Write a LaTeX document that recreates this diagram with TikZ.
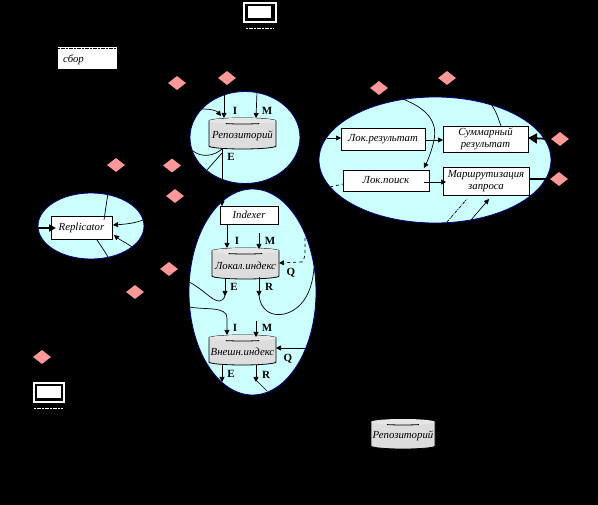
\documentclass[tikz,border=0pt]{standalone}
\usepackage{fontspec}
\setmainfont{Liberation Serif}
\usetikzlibrary{arrows.meta,shapes.geometric}
\definecolor{cyanfill}{HTML}{CCFFFF}
\definecolor{cyanedge}{HTML}{000080}
\definecolor{pinkfill}{HTML}{FF9999}
\definecolor{cylbody}{HTML}{DDDDDD}
\definecolor{cyltop}{HTML}{E6E6E6}
\tikzset{
  cloud/.style={ellipse,draw=cyanedge,line width=0.8pt,fill=cyanfill,inner sep=0,outer sep=0},
  marker/.style={diamond,fill=pinkfill,inner sep=0,minimum width=18pt,minimum height=14pt,aspect=1.3},
  whitebox/.style={rectangle,draw=black,line width=0.8pt,fill=white,inner sep=0,outer sep=0,font=\itshape\fontsize{10.8}{11.5}\selectfont,align=center},
  storetext/.style={rectangle,inner sep=0,outer sep=0,font=\itshape\fontsize{10.8}{11.5}\selectfont},
  sign/.style={font=\bfseries\fontsize{11}{12}\selectfont,inner sep=0},
  link/.style={draw=black,line width=0.7pt},
  arrowlink/.style={link,-{Triangle[length=5pt,width=5pt]}},
  heavylink/.style={draw=black,line width=1.8pt},
  monitor/.style={rectangle,draw=white,line width=2pt,inner sep=0,outer sep=0},
  strip/.style={draw=white,line width=1.2pt,dash pattern=on 2pt off 1pt on 4pt off 1pt}
}
% centre x, top y, width, height, name, text
\newcommand{\storeshape}[6]{%
  \pgfmathsetmacro{\xl}{#1-#3/2}\pgfmathsetmacro{\xr}{#1+#3/2}%
  \pgfmathsetmacro{\yt}{#2+3}\pgfmathsetmacro{\yb}{#2+#4-3}%
  \path[draw=black,line width=0.8pt,fill=cylbody] (\xl,\yt) -- (\xl,\yb) arc[start angle=180,end angle=0,x radius=#3/2,y radius=3] -- (\xr,\yt) arc[start angle=0,end angle=-180,x radius=#3/2,y radius=3] -- cycle;
  \path[fill=cyltop] (#1,\yt) ellipse[x radius=#3/2,y radius=3];
  \path[draw=black,line width=0.8pt] (#1-#3/4,#2+5.6) arc[start angle=120,end angle=60,x radius=#3/2,y radius=3];
  \node[storetext] (#5) at (#1,#2+#4/2+2) {#6};}
\begin{document}
\begin{tikzpicture}[x=1pt,y=-1pt]
\useasboundingbox (0,0) rectangle (598,505);
\fill[black] (0,0) rectangle (598,505);

% clouds
\node[cloud,minimum width=110pt,minimum height=92pt] (cloudrepo) at (245,137.5) {};
\node[cloud,minimum width=232pt,minimum height=126pt] (cloudquery) at (435,160) {};
\node[cloud,minimum width=127pt,minimum height=206pt] (cloudindex) at (252.5,292) {};
\node[cloud,minimum width=106pt,minimum height=66pt] (cloudrepl) at (91,226) {};

% markers
\foreach \nm/\px/\py in {ma/177/83,mb/227/78,mc/116/165,md/172/165.5,me/175/196,mf/169/269,mg/135/292,mh/42/357,mi/379/88,mj/447/78,mk/560/139,ml/559/179}
  \node[marker] (\nm) at (\px,\py) {};

% boxes
\node[rectangle,fill=white,minimum width=59pt,minimum height=22pt,inner sep=0] (collect) at (87.5,58.5) {};
\draw[black,line width=1.2pt,dash pattern=on 2pt off 1pt on 4pt off 1pt] (collect.north west) ++(0,1) -- ++(59,0);
\node[storetext] (collecttext) at (73.5,60) {сбор};
\node[whitebox,minimum width=84pt,minimum height=22pt] (locres) at (383,139) {Лок.результат};
\node[whitebox,minimum width=85pt,minimum height=26pt] (sumres) at (485.5,139) {Суммарный\\результат};
\node[whitebox,minimum width=86pt,minimum height=21pt] (locsearch) at (386,180.5) {Лок.поиск};
\node[whitebox,minimum width=86pt,minimum height=28pt] (routing) at (486,181) {Маршрутизация\\запроса};
\node[whitebox,minimum width=58pt,minimum height=18pt] (indexer) at (249,215) {Indexer};
\node[whitebox,minimum width=61pt,minimum height=23pt] (replicator) at (81.5,227.5) {Replicator};

% stores
\storeshape{242.5}{118}{67}{31}{repo}{Репозиторий}
\storeshape{245.5}{248}{67}{31}{localidx}{Локал.индекс}
\storeshape{242.5}{335}{67}{30}{extidx}{Внешн.индекс}
\storeshape{403}{419}{64}{30}{legendrepo}{Репозиторий}

% monitors
\node[monitor,minimum width=32pt,minimum height=19pt] (montop) at (260,12.5) {};
\fill[white] (248,6) rectangle (271,18);
\draw[strip] (246,28.5) -- (274,28.5);
\node[monitor,minimum width=30pt,minimum height=19pt] (monbottom) at (48.5,392.5) {};
\fill[white] (37,386) rectangle (61,398);
\draw[strip] (34,408.5) -- (63,408.5);

% labels
\node[sign] (la) at (235,111) {I};
\node[sign] (lb) at (267,111) {M};
\node[sign] (lc) at (231,157) {E};
\node[sign] (ld) at (237,241) {I};
\node[sign] (le) at (270,241) {M};
\node[sign] (lf) at (291,273) {Q};
\node[sign] (lg) at (234,287) {E};
\node[sign] (lh) at (269,287) {R};
\node[sign] (li) at (235,328) {I};
\node[sign] (lj) at (267,328) {M};
\node[sign] (lk) at (288,359) {Q};
\node[sign] (ll) at (231,374) {E};
\node[sign] (lm) at (266,375) {R};

% free ends
\coordinate (r1) at (224,92);
\coordinate (r2) at (257,92);
\coordinate (r3) at (202,109);
\coordinate (r4) at (193,151);
\coordinate (r5) at (207,170);
\coordinate (r6) at (222,183);
\coordinate (ri) at (222,189);
% repository
\draw[arrowlink] (r1) -- (224,118);
\draw[arrowlink] (r2) -- (256,118);
\draw[arrowlink] (r3) .. controls (212,109) and (217,111) .. (221,116);
\draw[link] (r4) .. controls (202,158) and (214,156) .. (222,149);
\draw[link] (r5) -- (222,153);
\draw[link] (222,149) -- (r6);
\draw[arrowlink] (ri) -- (indexer.north -| ri);

% query
\draw[arrowlink] (327,138) -- (locres.west |- 0,138);
\draw[arrowlink] (locres.east |- 0,140) -- (sumres.west |- 0,140);
\draw[arrowlink] (403,99) .. controls (425,108) and (438,120) .. (434,140) .. controls (432,150) and (428,160) .. (424,168);
\draw[link] (490,103) .. controls (496,110) and (498,118) .. (501,126);
\draw[heavylink,-{Triangle[length=9pt,width=10pt]}] (551,139) -- (sumres.east |- 0,138);
\draw[heavylink] (routing.east |- 0,179) -- (550,179);
\draw[link,dashed] (330,187) -- (locsearch.west |- 0,184);
\draw[arrowlink] (424,182) -- (446,182);
\draw[link,dash pattern=on 3pt off 1pt on 1pt off 1pt] (447,222) -- (467,199);
\draw[arrowlink] (471,220) -- (489,199);

% index cloud
\draw[arrowlink] (227,224) -- (227,248);
\draw[arrowlink] (259,233) -- (259,249);
\draw[link,dashed] (305,238) .. controls (305,248) and (306,258) .. (302,262);
\draw[link,dashed,-{Triangle[length=5pt,width=5pt]}] (302,262) -- (279,263);
\draw[arrowlink] (225,279) -- (225,296);
\draw[arrowlink] (259,277) -- (259,296);
\draw[link] (259,295) .. controls (261,318) and (285,320) .. (300,305) .. controls (310,295) and (313,280) .. (314,268);
\draw[link] (189,282) .. controls (205,290) and (215,305) .. (222,300) .. controls (225,298) and (225,296) .. (225,292);
\draw[arrowlink] (189,307) .. controls (205,310) and (227,306) .. (227,318) -- (227,335);
\draw[arrowlink] (256,321) -- (256,337);
\draw[arrowlink] (305,348) -- (276,348);
\draw[arrowlink] (222,365) -- (222,382);
\draw[arrowlink] (256,365) -- (256,382);
\draw[link] (256,380) -- (267,391);

% replicator
\draw[heavylink,-{Triangle[length=7pt,width=7pt]}] (38,228) -- (56,228);
\draw[link] (108,193) -- (104,220);
\draw[arrowlink] (143,220) .. controls (135,223) and (128,224) .. (113,225);
\draw[arrowlink] (132,247) .. controls (125,242) and (120,240) .. (114,235);
\draw[link] (108,257) .. controls (104,250) and (101,246) .. (97,240);
\end{tikzpicture}
\end{document}
